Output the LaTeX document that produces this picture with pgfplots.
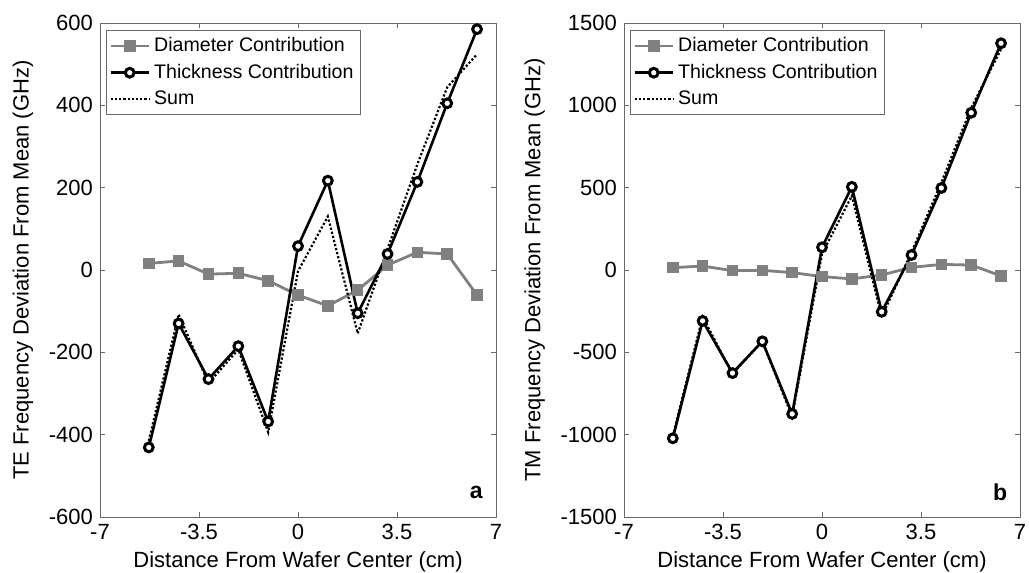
\documentclass[border=0pt]{standalone}
\usepackage{fontspec}
\setmainfont{Liberation Sans}
\usepackage{pgfplots}
\pgfplotsset{compat=1.18}

\definecolor{diamgray}{RGB}{128,128,128}
\definecolor{axgray}{RGB}{105,105,105}

% x positions of the measurement sites (cm)
\pgfplotstableread{
x       diamTE  thickTE sumTE  diamTM thickTM sumTM
-5.275  16      -431    -415   14     -1022   -1008
-4.22   22      -130    -108   24     -309    -285
-3.165  -10     -265    -275   -4     -626    -630
-2.11   -8      -185    -193   -2     -433    -435
-1.055  -26     -368    -394   -16    -874    -890
0       -61     58      -3     -40    138     98
1.055   -87     217     130    -54    505     451
2.11    -49     -105    -154   -30    -254    -284
3.165   12      39      51     16     91      107
4.22    43      214     257    34     498     532
5.275   39      405     444    30     955     985
6.33    -61     585     524    -36    1377    1341
}\datatable

\pgfplotsset{
  panel/.style={
    scale only axis, width=198pt, height=247pt,
    xmin=-7, xmax=7, xtick={-7,-3.5,0,3.5,7},
    tick align=inside, major tick length=2.5pt,
    axis line style={axgray}, every tick/.style={axgray},
    font=\fontsize{11}{13}\selectfont,
    /pgf/number format/assume math mode=true,
    /pgf/number format/1000 sep={},
    xlabel={Distance From Wafer Center (cm)},
    xlabel style={yshift=1pt},
    ylabel style={yshift=1pt},
    legend cell align=left,
    legend style={at={(0.015,0.986)}, anchor=north west,
      draw=axgray, font=\fontsize{9.8}{11.5}\selectfont,
      inner sep=1.5pt, row sep=0.8pt},
    legend image code/.code={
      \draw[mark repeat=2,mark phase=2,#1] plot coordinates {(0pt,0pt) (9.5pt,0pt) (19pt,0pt)};},
  },
  diam/.style={diamgray, line width=1.4pt, mark=square*, mark size=2.2pt,
    mark options={fill=diamgray, draw=diamgray, solid}},
  thick/.style={black, line width=1.3pt, mark=*, mark size=2.2pt,
    mark options={fill=white, draw=black, line width=1.5pt, solid}},
  sumst/.style={black, line width=1.1pt, densely dotted, mark=none},
}

\begin{document}
\begin{tikzpicture}
\begin{axis}[panel, at={(0,0)},
  ymin=-600, ymax=600, ytick={-600,-400,...,600},
  ylabel={TE Frequency Deviation From Mean (GHz)}]
\addplot[diam] table[x=x, y=diamTE] {\datatable};
\addlegendentry{Diameter Contribution}
\addplot[thick] table[x=x, y=thickTE] {\datatable};
\addlegendentry{Thickness Contribution}
\addplot[sumst] table[x=x, y=sumTE] {\datatable};
\addlegendentry{Sum}
\node[font=\fontsize{11.5}{13}\selectfont\bfseries] at (rel axis cs:0.95,0.05) {a};
\end{axis}
\begin{axis}[panel, at={(262pt,0)},
  ymin=-1500, ymax=1500, ytick={-1500,-1000,...,1500},
  ylabel={TM Frequency Deviation From Mean (GHz)}]
\addplot[diam] table[x=x, y=diamTM] {\datatable};
\addlegendentry{Diameter Contribution}
\addplot[thick] table[x=x, y=thickTM] {\datatable};
\addlegendentry{Thickness Contribution}
\addplot[sumst] table[x=x, y=sumTM] {\datatable};
\addlegendentry{Sum}
\node[font=\fontsize{11.5}{13}\selectfont\bfseries] at (rel axis cs:0.95,0.05) {b};
\end{axis}
\pgfresetboundingbox
\path (-50pt,-28pt) rectangle (464.5pt,258.5pt);
\end{tikzpicture}
\end{document}
